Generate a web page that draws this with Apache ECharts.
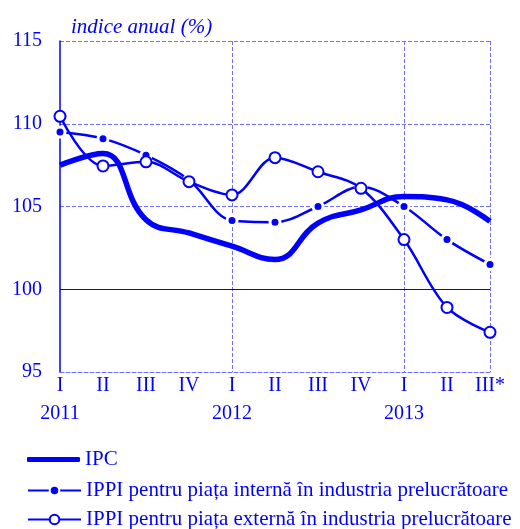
<!DOCTYPE html>
<html>
<head>
<meta charset="utf-8">
<script src="https://cdn.jsdelivr.net/npm/echarts@6/dist/echarts.min.js"></script>
<style>
  html,body{margin:0;padding:0;background:#fff;}
  #main{width:520px;height:529px;}
</style>
</head>
<body>
<div id="main"></div>
<script>
// trimestre / an
let categorii=['I\n2011','II','III','IV','I\n2012','II','III','IV','I\n2013','II','III*'];
let ipc=[107.5,108.2,104.2,103.4,102.6,101.8,104.0,104.8,105.6,105.4,104.1];
let ippiIntern=[109.5,109.1,108.1,106.6,104.15,104.05,105.0,106.2,105.0,103.0,101.5];
let ippiExtern=[110.45,107.45,107.7,106.5,105.7,107.95,107.1,106.1,103.0,98.9,97.4];
let numeSerii=['IPC','IPPI pentru piața internă în industria prelucrătoare','IPPI pentru piața externă în industria prelucrătoare'];

let albastru='#0000ff';
let font='"Liberation Serif", "Times New Roman", serif';
let textLegenda={fontFamily:font,fontSize:21,color:albastru};

var myChart=echarts.init(document.getElementById('main'));
myChart.setOption({
  animation:false,
  title:{
    text:'indice anual (%)',
    left:66,
    top:12,
    textStyle:{fontFamily:font,fontStyle:'italic',fontWeight:'normal',fontSize:21,color:albastru}
  },
  //legenda pe trei randuri
  legend:[
    {left:27,top:449,padding:0,itemWidth:53,itemHeight:5,icon:'roundRect',textStyle:textLegenda,data:[numeSerii[0]]},
    {left:27,top:480,padding:0,itemWidth:53,itemHeight:12,textStyle:textLegenda,data:[numeSerii[1]]},
    {left:27,top:509,padding:0,itemWidth:53,itemHeight:12,textStyle:textLegenda,data:[numeSerii[2]]}
  ],
  grid:{left:60,right:30,top:41,bottom:157},
  xAxis:{
    type:'category',
    boundaryGap:false,
    data:categorii,
    axisLine:{lineStyle:{color:'#7070ff',type:'dashed',width:1}},
    axisTick:{show:false},
    axisLabel:{fontFamily:font,fontSize:20,color:albastru,lineHeight:28,margin:0,interval:0},
    splitLine:{
      show:true,
      interval:function(i){return i==4||i==8||i==10;},
      lineStyle:{color:'#7070ff',type:'dashed',width:1}
    }
  },
  yAxis:{
    type:'value',
    min:95,
    max:115,
    interval:5,
    axisLine:{show:true,lineStyle:{color:albastru,width:1.5}},
    axisTick:{show:false},
    axisLabel:{fontFamily:font,fontSize:20,color:albastru,margin:18},
    splitLine:{lineStyle:{color:'#7070ff',type:'dashed',width:1}}
  },
  series:[
    {
      name:numeSerii[0],
      type:'line',
      data:ipc,
      smooth:0.45,
      symbol:'none',
      lineStyle:{color:albastru,width:5.5},
      itemStyle:{color:albastru},
      z:3,
      markLine:{
        silent:true,
        symbol:'none',
        label:{show:false},
        lineStyle:{color:albastru,type:'solid',width:1},
        data:[{yAxis:100}]
      }
    },
    {
      name:numeSerii[1],
      type:'line',
      data:ippiIntern,
      smooth:0.35,
      symbol:'circle',
      symbolSize:10,
      lineStyle:{color:albastru,width:2.5},
      itemStyle:{color:albastru,borderColor:'#fff',borderWidth:3},
      z:4
    },
    {
      name:numeSerii[2],
      type:'line',
      data:ippiExtern,
      smooth:0.35,
      symbol:'circle',
      symbolSize:11,
      lineStyle:{color:albastru,width:2.5},
      itemStyle:{color:'#fff',borderColor:albastru,borderWidth:2},
      z:5
    }
  ]
});
</script>
</body>
</html>
